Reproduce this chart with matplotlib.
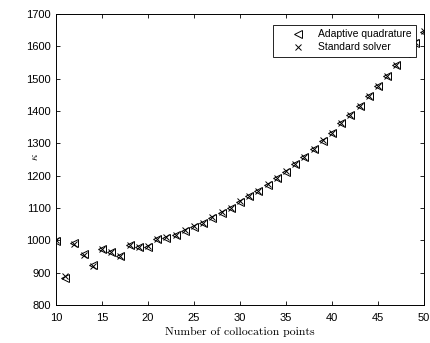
import numpy as np
import matplotlib
matplotlib.use("Agg")
import matplotlib.pyplot as plt

# data
n_points = [10, 11, 12, 13, 14, 15, 16, 17, 18, 19, 20, 21, 22, 23, 24, 25, 26, 27, 28, 29,
            30, 31, 32, 33, 34, 35, 36, 37, 38, 39, 40, 41, 42, 43, 44, 45, 46, 47, 48, 49, 50]
kappa_adaptive = [998, 884, 992, 958, 922, 974, 965, 950, 984, 980, 980, 1004, 1008, 1016, 1030,
                  1042, 1054, 1070, 1085, 1100, 1120, 1136, 1152, 1172, 1192, 1212, 1236, 1258,
                  1283, 1308, 1332, 1362, 1388, 1416, 1446, 1477, 1508, 1542, 1578, 1612, 1645]
kappa_standard = [1000, 888, 990, 955, 920, 972, 964, 952, 985, 980, 981, 1005, 1009, 1017, 1031,
                  1043, 1055, 1071, 1086, 1101, 1121, 1137, 1153, 1173, 1193, 1213, 1237, 1259,
                  1284, 1309, 1333, 1363, 1389, 1417, 1447, 1478, 1509, 1543, 1579, 1613, 1647]

plt.rcParams["font.family"] = ["Liberation Sans", "DejaVu Sans"]
plt.rcParams["mathtext.fontset"] = "cm"

fig = plt.figure(figsize=(4.3, 3.43), dpi=100)
ax = fig.add_axes([0.130, 0.111, 0.856, 0.848])

ax.plot(n_points, kappa_adaptive, linestyle="none", marker="<", markersize=6,
        markerfacecolor="none", markeredgecolor="black", markeredgewidth=0.7,
        label="Adaptive quadrature")
ax.plot(n_points, kappa_standard, linestyle="none", marker="x", markersize=5,
        color="black", markeredgewidth=0.7, label="Standard solver")

ax.set_xlim(10, 50)
ax.set_ylim(800, 1700)
ax.set_xticks(np.arange(10, 51, 5))
ax.set_yticks(np.arange(800, 1701, 100))
ax.tick_params(direction="in", top=True, right=True, labelsize=8, length=3, width=0.6)
ax.tick_params(axis="x", pad=6)
for s in ax.spines.values():
    s.set_linewidth(0.7)

ax.set_xlabel("Number of collocation points", fontfamily="cmr10", fontsize=8.5, labelpad=3)
ax.set_ylabel(r"$\kappa$", fontsize=8, rotation=90)
ax.yaxis.set_label_coords(-0.043, 0.509)

leg = ax.legend(loc="upper right", bbox_to_anchor=(0.978, 0.962), borderaxespad=0,
                fontsize=7.5, frameon=True, fancybox=False, edgecolor="black", framealpha=1,
                borderpad=0.4, handletextpad=-0.1, labelspacing=0.3, handlelength=4)
leg.get_frame().set_linewidth(0.6)
leg.set_zorder(5)

fig.savefig("out.png", dpi=100)
